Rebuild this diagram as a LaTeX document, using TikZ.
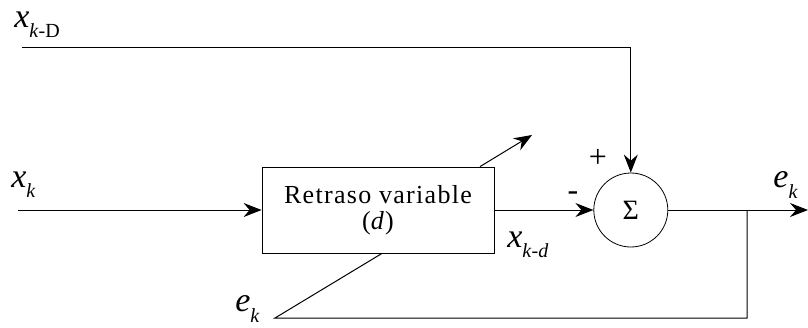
\documentclass[tikz,border=0pt]{standalone}
\usepackage{fontspec}
\setmainfont{Liberation Serif}
\usetikzlibrary{arrows.meta, positioning}

\newcommand{\sig}[2]{\textit{#1}\raisebox{-0.3em}{\fontsize{10}{10}\selectfont #2}}

\begin{document}
\begin{tikzpicture}[
    x=0.5pt, y=-0.5pt,
    block/.style={draw, rectangle, minimum width=116pt, minimum height=43pt, align=center, font=\fontsize{13}{13}\selectfont\addfontfeature{LetterSpace=5}},
    sumnode/.style={draw, circle, minimum size=37pt, inner sep=0pt, font=\fontsize{14}{14}\selectfont},
    lbl/.style={inner sep=0pt, anchor=west, font=\fontsize{17}{17}\selectfont},
    sgn/.style={inner sep=0pt, font=\fontsize{16}{16}\selectfont},
    arrow/.style={-{Stealth[length=9pt, width=7pt, inset=3pt]}, line width=0.5pt},
    line/.style={line width=0.5pt}
]
    \useasboundingbox (0,0) rectangle (808,327);

    % Nodes
    \node[block] (delay) at (378,210) {Retraso variable\\(\textit{d})};
    \node[sumnode] (sum) [right=49.5pt of delay] {Σ};

    % Free ends
    \coordinate (inD) at (22,47);
    \coordinate (inK) at (18,210);
    \coordinate (out) at (808,210);
    \coordinate (tap) at (747,210);
    \coordinate (fb) at (275,318);
    \coordinate (adj) at (532,135);

    % Labels
    \node[lbl] (lxD) at (14,25) {\sig{x}{\textit{k}-D}};
    \node[lbl] (lxk) at (11,185) {\sig{x}{\textit{k}}};
    \node[lbl] (lxd) at (507,245) {\sig{x}{\textit{k}-\textit{d}}};
    \node[lbl] (lek) at (773,185) {\sig{e}{\textit{k}}};
    \node[lbl] (lfb) at (235,309) {\sig{e}{\textit{k}}};
    \node[sgn] (plus) at (598,158) {+};
    \node[sgn] (minus) at (573,196) {-};

    % Connections
    \draw[arrow] (inD) -| (sum.north);
    \draw[arrow] (inK) -- (delay.west);
    \draw[arrow] (delay.east) -- (sum.west);
    \draw[arrow] (sum.east) -- (out);

    % Feedback and adjustment
    \draw[line] (tap) |- (fb) -- ([xshift=2pt]delay.south);
    \draw[arrow] ([xshift=51pt]delay.north) -- (adj);
\end{tikzpicture}
\end{document}
